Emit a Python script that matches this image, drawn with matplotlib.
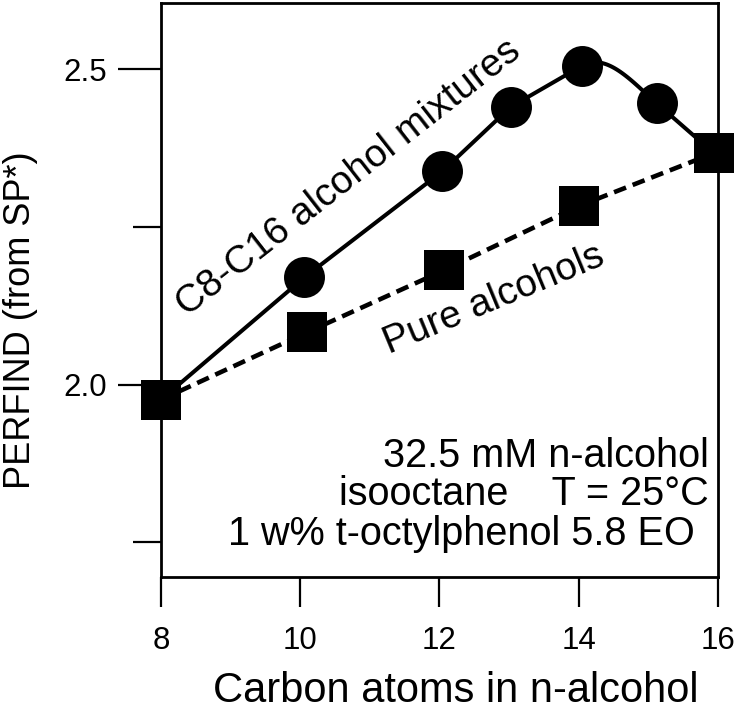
import numpy as np
import matplotlib
matplotlib.use("Agg")
import matplotlib.pyplot as plt
from matplotlib.ticker import MultipleLocator

plt.rcParams["font.family"] = ["Liberation Sans", "DejaVu Sans"]

# C8-C16 alcohol mixtures (circles), endpoints shared with the pure alcohols
mix_x = [8.0, 10.06, 12.04, 13.02, 14.04, 15.12, 15.94]
mix_y = [1.976, 2.170, 2.338, 2.440, 2.505, 2.446, 2.367]

# pure n-alcohols (squares)
pure_x = [8.0, 10.1, 12.06, 14.0, 15.94]
pure_y = [1.976, 2.083, 2.181, 2.283, 2.367]

x_ticks = [8, 10, 12, 14, 16]
y_ticks = [2.0, 2.5]
notes = ["32.5 mM n-alcohol", "isooctane    T = 25\u00b0C", "1 w% t-octylphenol 5.8 EO"]


# straight segments, but a smooth hermite bend between C14 and C15 like in the original
def mixture_curve(xs, ys):
    xs = np.asarray(xs, dtype=float)
    ys = np.asarray(ys, dtype=float)
    out_x, out_y = [xs[0]], [ys[0]]
    for i in range(len(xs) - 1):
        x0, x1, y0, y1 = xs[i], xs[i + 1], ys[i], ys[i + 1]
        if i == 4:
            h = x1 - x0
            m0 = (ys[i] - ys[i - 1]) / (xs[i] - xs[i - 1])
            m1 = (ys[i + 2] - ys[i + 1]) / (xs[i + 2] - xs[i + 1])
            t = np.linspace(0, 1, 40)[1:]
            h00 = 2 * t**3 - 3 * t**2 + 1
            h10 = t**3 - 2 * t**2 + t
            h01 = -2 * t**3 + 3 * t**2
            h11 = t**3 - t**2
            out_x.extend(x0 + t * h)
            out_y.extend(h00 * y0 + h10 * h * m0 + h01 * y1 + h11 * h * m1)
        else:
            out_x.append(x1)
            out_y.append(y1)
    return np.array(out_x), np.array(out_y)


fig = plt.figure(figsize=(7.34, 7.10), dpi=100)
ax = fig.add_axes([0.2193, 0.1873, 0.7589, 0.8085])

cx, cy = mixture_curve(mix_x, mix_y)
ax.plot(cx, cy, color="black", lw=2.9, solid_capstyle="butt", clip_on=False, zorder=2)
ax.plot(pure_x, pure_y, color="black", lw=3.3, ls=(0, (2.8, 1.55)), clip_on=False, zorder=2)

ax.plot(mix_x[1:-1], mix_y[1:-1], "o", color="black", ms=29.5, mew=0, clip_on=False, zorder=3)
ax.plot(pure_x, pure_y, "s", color="black", ms=28.5, mew=0, clip_on=False, zorder=3)

ax.set_xlim(8, 16)
ax.set_ylim(1.695, 2.605)
ax.set_xticks(x_ticks)
ax.set_yticks(y_ticks)
ax.yaxis.set_major_formatter(plt.FuncFormatter(lambda v, p: f"{v:.1f}"))
ax.yaxis.set_minor_locator(MultipleLocator(0.25))

for s in ax.spines.values():
    s.set_linewidth(2.0)
ax.tick_params(axis="x", which="major", direction="out", length=21.6, width=1.6, labelsize=22.5, pad=14)
ax.tick_params(axis="y", which="major", direction="out", length=31, width=1.6, labelsize=22.5, pad=8)
ax.tick_params(axis="y", which="minor", direction="out", length=20, width=1.6)

ax.set_xlabel("Carbon atoms in n-alcohol", fontsize=30)
ax.xaxis.set_label_coords(0.53, -0.163)
ax.set_ylabel("PERFIND (from SP*)", fontsize=26)
ax.yaxis.set_label_coords(-0.221, 0.448)

ax.text(10.70, 2.328, "C8-C16 alcohol mixtures", fontsize=28, rotation=38,
        ha="center", va="center", rotation_mode="anchor")
ax.text(12.78, 2.135, "Pure alcohols", fontsize=28, rotation=22.5,
        ha="center", va="center", rotation_mode="anchor")

# the three condition lines, right aligned near the right spine
note_x = [15.87, 15.86, 15.66]
note_y = [1.870, 1.8095, 1.746]
for nx, ny, line in zip(note_x, note_y, notes):
    ax.text(nx, ny, line, fontsize=28.5, ha="right", va="baseline")

fig.savefig("out.png", dpi=100)
